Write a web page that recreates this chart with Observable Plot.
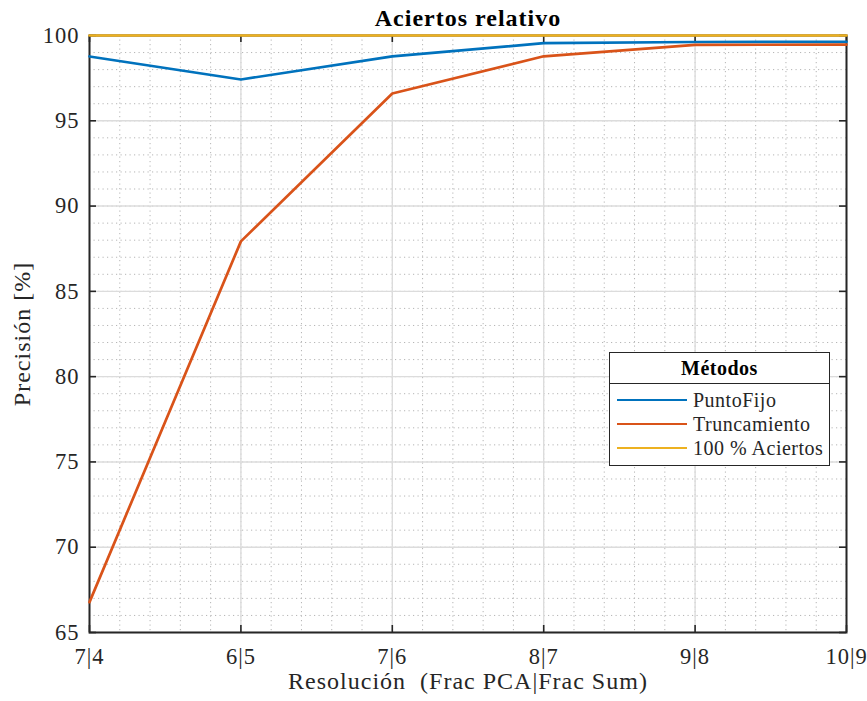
<!DOCTYPE html>
<html><head><meta charset="utf-8">
<script src="https://cdn.jsdelivr.net/npm/d3@7"></script>
<script src="https://cdn.jsdelivr.net/npm/@observablehq/plot@0.6"></script>
<style>
html,body{margin:0;background:#fff;font-family:"Liberation Serif","Times New Roman",serif;overflow:hidden;}
#wrap{position:relative;width:867px;height:701px;}
#wrap svg{display:block;}
#wrap svg text{letter-spacing:1px;}
#legend{position:absolute;left:609px;top:352px;width:221px;height:114px;border:1.3px solid #262626;background:#fff;box-sizing:border-box;color:#262626;letter-spacing:0.5px;}
#legend .t{height:30px;line-height:31px;text-align:center;font-weight:bold;font-size:20px;border-bottom:1.3px solid #262626;color:#000;}
#legend .r{height:24px;display:flex;align-items:center;font-size:20px;}
#legend .s{width:70px;height:0;border-top:2.6px solid;margin-left:7px;margin-right:6px;}
</style></head>
<body><div id="wrap"></div>
<script>
const categories = ["7|4","6|5","7|6","8|7","9|8","10|9"];
const puntoFijo = [98.77, 97.42, 98.78, 99.55, 99.62, 99.63];
const truncamiento = [66.78, 87.93, 96.6, 98.78, 99.45, 99.47];
const aciertos100 = [100, 100, 100, 100, 100, 100];
const seriesNames = ["PuntoFijo","Truncamiento","100 % Aciertos"];
const colors = ["#0072BD","#D95319","#EDB120"];
const yMajor = [65,70,75,80,85,90,95,100];
const yMinor = d3.range(65, 101, 1);
const xMajor = d3.range(0, categories.length);
const xMinor = d3.range(0, 5.0001, 0.2);
const titleText = "Aciertos relativo";
const xLabel = "Resolución\u00a0 (Frac PCA|Frac Sum)";
const yLabel = "Precisión [%]";
const legendTitle = "Métodos";

const rows = [];
[puntoFijo, truncamiento, aciertos100].forEach((arr, s) =>
  arr.forEach((v, i) => rows.push({i, v, s: seriesNames[s]})));

const W = 867, H = 701, mL = 89, mR = 21, mT = 35, mB = 69;
const pw = W - mL - mR, ph = H - mT - mB;
const font = "Liberation Serif, Times New Roman, serif";

const chart = Plot.plot({
  width: W, height: H,
  marginLeft: mL, marginRight: mR, marginTop: mT, marginBottom: mB,
  style: {fontFamily: font, fontSize: "22px", color: "#262626", background: "#fff"},
  x: {domain: [0, 5]},
  y: {domain: [65, 100]},
  color: {domain: seriesNames, range: colors},
  marks: [
    Plot.gridX(xMinor, {stroke: "#b5b5b5", strokeOpacity: 1, strokeDasharray: "1.2,3.3", strokeWidth: 1}),
    Plot.gridY(yMinor, {stroke: "#b5b5b5", strokeOpacity: 1, strokeDasharray: "1.2,3.3", strokeWidth: 1}),
    Plot.gridX(xMajor, {stroke: "#dcdcdc", strokeOpacity: 1, strokeWidth: 1.4}),
    Plot.gridY(yMajor, {stroke: "#dcdcdc", strokeOpacity: 1, strokeWidth: 1.4}),
    Plot.frame({stroke: "#262626", strokeWidth: 2}),
    Plot.tickX(xMajor, {x: d => d, insetTop: ph - 7, stroke: "#262626", strokeWidth: 1.6}),
    Plot.tickX(xMajor, {x: d => d, insetBottom: ph - 7, stroke: "#262626", strokeWidth: 1.6}),
    Plot.tickY(yMajor, {y: d => d, insetRight: pw - 7, stroke: "#262626", strokeWidth: 1.6}),
    Plot.tickY(yMajor, {y: d => d, insetLeft: pw - 7, stroke: "#262626", strokeWidth: 1.6}),
    Plot.line(rows, {x: "i", y: "v", z: "s", stroke: "s", strokeWidth: 2.7}),
    Plot.axisX(xMajor, {tickSize: 0, tickPadding: 16, tickFormat: i => categories[i], label: null, fill: "#262626", fontSize: 22.5}),
    Plot.axisY(yMajor, {tickSize: 0, tickPadding: 10, label: null, fill: "#262626", fontSize: 22.5}),
    Plot.text([titleText], {frameAnchor: "top", lineAnchor: "middle", textAnchor: "middle", dy: -17, fontWeight: "bold", fontSize: 24, fill: "#000"}),
    Plot.text([xLabel], {frameAnchor: "bottom", lineAnchor: "middle", textAnchor: "middle", dy: 49, fontSize: 24, fill: "#262626"}),
    Plot.text([yLabel], {frameAnchor: "left", lineAnchor: "middle", textAnchor: "middle", dx: -67, rotate: -90, fontSize: 24, fill: "#262626"})
  ]
});
const wrap = document.getElementById("wrap");
wrap.appendChild(chart);
const lg = document.createElement("div");
lg.id = "legend";
lg.innerHTML = `<div class="t">${legendTitle}</div>` + seriesNames.map((n, k) =>
  `<div class="r"><span class="s" style="border-color:${colors[k]}"></span>${n}</div>`).join("");
lg.children[1].style.marginTop = "4px";
wrap.appendChild(lg);
</script></body></html>
